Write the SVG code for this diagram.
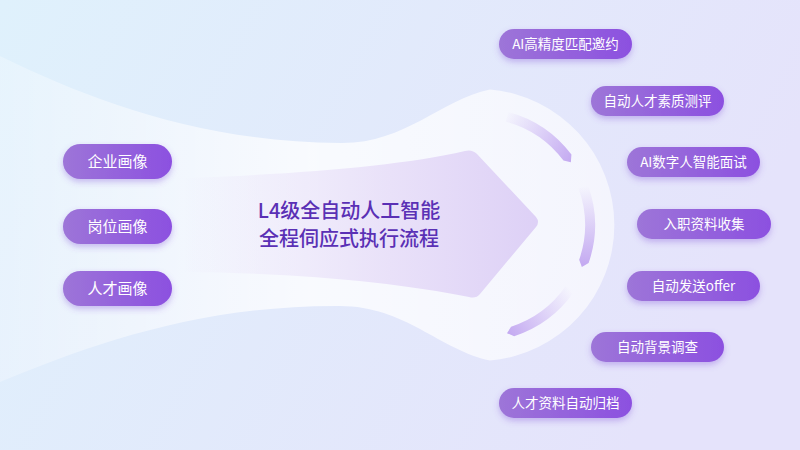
<svg xmlns="http://www.w3.org/2000/svg" width="800" height="450" viewBox="0 0 800 450">
  <defs>
    <linearGradient id="bg" x1="0" y1="0" x2="1" y2="0.3">
      <stop offset="0" stop-color="#dff1fc"/>
      <stop offset="1" stop-color="#e5e3fb"/>
    </linearGradient>
    <linearGradient id="band" gradientUnits="userSpaceOnUse" x1="0" y1="0" x2="620" y2="0">
      <stop offset="0" stop-color="#ffffff" stop-opacity="0.25"/>
      <stop offset="0.5" stop-color="#ffffff" stop-opacity="0.78"/>
      <stop offset="1" stop-color="#ffffff" stop-opacity="0.6"/>
    </linearGradient>
    <linearGradient id="arrowFill" gradientUnits="userSpaceOnUse" x1="180" y1="0" x2="540" y2="0">
      <stop offset="0" stop-color="#e6dcf8" stop-opacity="0"/>
      <stop offset="0.6" stop-color="#e6dcf8" stop-opacity="0.85"/>
      <stop offset="1" stop-color="#ddd0f6"/>
    </linearGradient>
    <linearGradient id="pill" x1="0" y1="0" x2="1" y2="0">
      <stop offset="0" stop-color="#9d75d8"/>
      <stop offset="1" stop-color="#8c50e0"/>
    </linearGradient>
    <linearGradient id="seg1" gradientUnits="userSpaceOnUse" x1="505" y1="115" x2="572" y2="160">
      <stop offset="0" stop-color="#c4aaf1" stop-opacity="0"/>
      <stop offset="1" stop-color="#c4aaf1"/>
    </linearGradient>
    <linearGradient id="seg2" gradientUnits="userSpaceOnUse" x1="584" y1="186" x2="584" y2="265">
      <stop offset="0" stop-color="#c4aaf1" stop-opacity="0"/>
      <stop offset="1" stop-color="#c4aaf1"/>
    </linearGradient>
    <linearGradient id="seg3" gradientUnits="userSpaceOnUse" x1="570" y1="289" x2="508" y2="333">
      <stop offset="0" stop-color="#c4aaf1" stop-opacity="0"/>
      <stop offset="1" stop-color="#c4aaf1"/>
    </linearGradient>
    <filter id="shadow" x="-20%" y="-40%" width="140%" height="190%">
      <feDropShadow dx="0" dy="3" stdDeviation="3" flood-color="#7d4bd6" flood-opacity="0.35"/>
    </filter>
  </defs>
  <style>
    .pill { fill: url(#pill); filter: url(#shadow); }
    .lt { font-family: "Noto Sans CJK SC", "Noto Sans", sans-serif; font-size: 15px; font-weight: 400; fill: #ffffff; text-anchor: middle; }
    .rt { font-family: "Noto Sans CJK SC", "Noto Sans", sans-serif; font-size: 13.5px; font-weight: 400; fill: #ffffff; text-anchor: middle; }
    .title { font-family: "Noto Sans CJK SC", "Noto Sans", sans-serif; font-size: 20px; font-weight: 500; fill: #5a30b5; text-anchor: middle; }
  </style>

  <rect x="0" y="0" width="800" height="450" fill="url(#bg)"/>

  <!-- white horn band with circle -->
  <path d="M0,56 C90,100 200,142 340,143 C405,144 440,100 490,89.5 A136,136 0 0 1 490,360.5 C440,350 405,306 340,306 C200,305 90,345 0,382 Z" fill="url(#band)"/>

  <!-- lavender arrow shape -->
  <path d="M185,178 C300,174 400,166 465,151 Q472,149 477,154 L536,217 Q540,222 536,227 L480,294 Q476,299 469,297 C400,283 300,273 185,272 Z" fill="url(#arrowFill)"/>

  <!-- ring segments -->
  <g id="connectors">
    <path d="M508.28,111.99 A117,117 0 0 1 571.44,154.59 L570.85,162.37 L563.45,160.61 A107,107 0 0 0 505.69,121.65 Z" fill="url(#seg1)"/>
    <path d="M587.94,184.98 A117,117 0 0 1 588.62,263.09 L581.85,266.96 L579.17,259.84 A107,107 0 0 0 578.55,188.40 Z" fill="url(#seg2)"/>
    <path d="M573.84,292.11 A117,117 0 0 1 514.15,336.28 L506.99,333.18 L511.06,326.77 A107,107 0 0 0 565.65,286.37 Z" fill="url(#seg3)"/>
  </g>

  <g id="center-title">
    <text class="title" x="349" y="218">L4级全自动人工智能</text>
    <text class="title" x="349" y="246">全程伺应式执行流程</text>
  </g>

  <!-- left nodes -->
  <g id="node-company">
    <rect class="pill" x="63" y="144" width="109" height="35" rx="17.5"/>
    <text class="lt" x="117.5" y="167">企业画像</text>
  </g>
  <g id="node-position">
    <rect class="pill" x="63" y="209" width="109" height="35" rx="17.5"/>
    <text class="lt" x="117.5" y="232">岗位画像</text>
  </g>
  <g id="node-talent">
    <rect class="pill" x="63" y="271" width="109" height="35" rx="17.5"/>
    <text class="lt" x="117.5" y="294">人才画像</text>
  </g>

  <!-- right nodes -->
  <g id="node-r1">
    <rect class="pill" x="499" y="29" width="133" height="30" rx="15"/>
    <text class="rt" x="565.5" y="48.5">AI高精度匹配邀约</text>
  </g>
  <g id="node-r2">
    <rect class="pill" x="591" y="86" width="133" height="30" rx="15"/>
    <text class="rt" x="657.5" y="105.5">自动人才素质测评</text>
  </g>
  <g id="node-r3">
    <rect class="pill" x="627" y="147" width="133" height="30" rx="15"/>
    <text class="rt" x="693.5" y="166.5">AI数字人智能面试</text>
  </g>
  <g id="node-r4">
    <rect class="pill" x="637" y="209" width="134" height="30" rx="15"/>
    <text class="rt" x="704" y="228.5">入职资料收集</text>
  </g>
  <g id="node-r5">
    <rect class="pill" x="627" y="271" width="133" height="30" rx="15"/>
    <text class="rt" x="693.5" y="290.5">自动发送offer</text>
  </g>
  <g id="node-r6">
    <rect class="pill" x="591" y="332" width="133" height="30" rx="15"/>
    <text class="rt" x="657.5" y="351.5">自动背景调查</text>
  </g>
  <g id="node-r7">
    <rect class="pill" x="499" y="388" width="133" height="30" rx="15"/>
    <text class="rt" x="565.5" y="407.5">人才资料自动归档</text>
  </g>
</svg>
